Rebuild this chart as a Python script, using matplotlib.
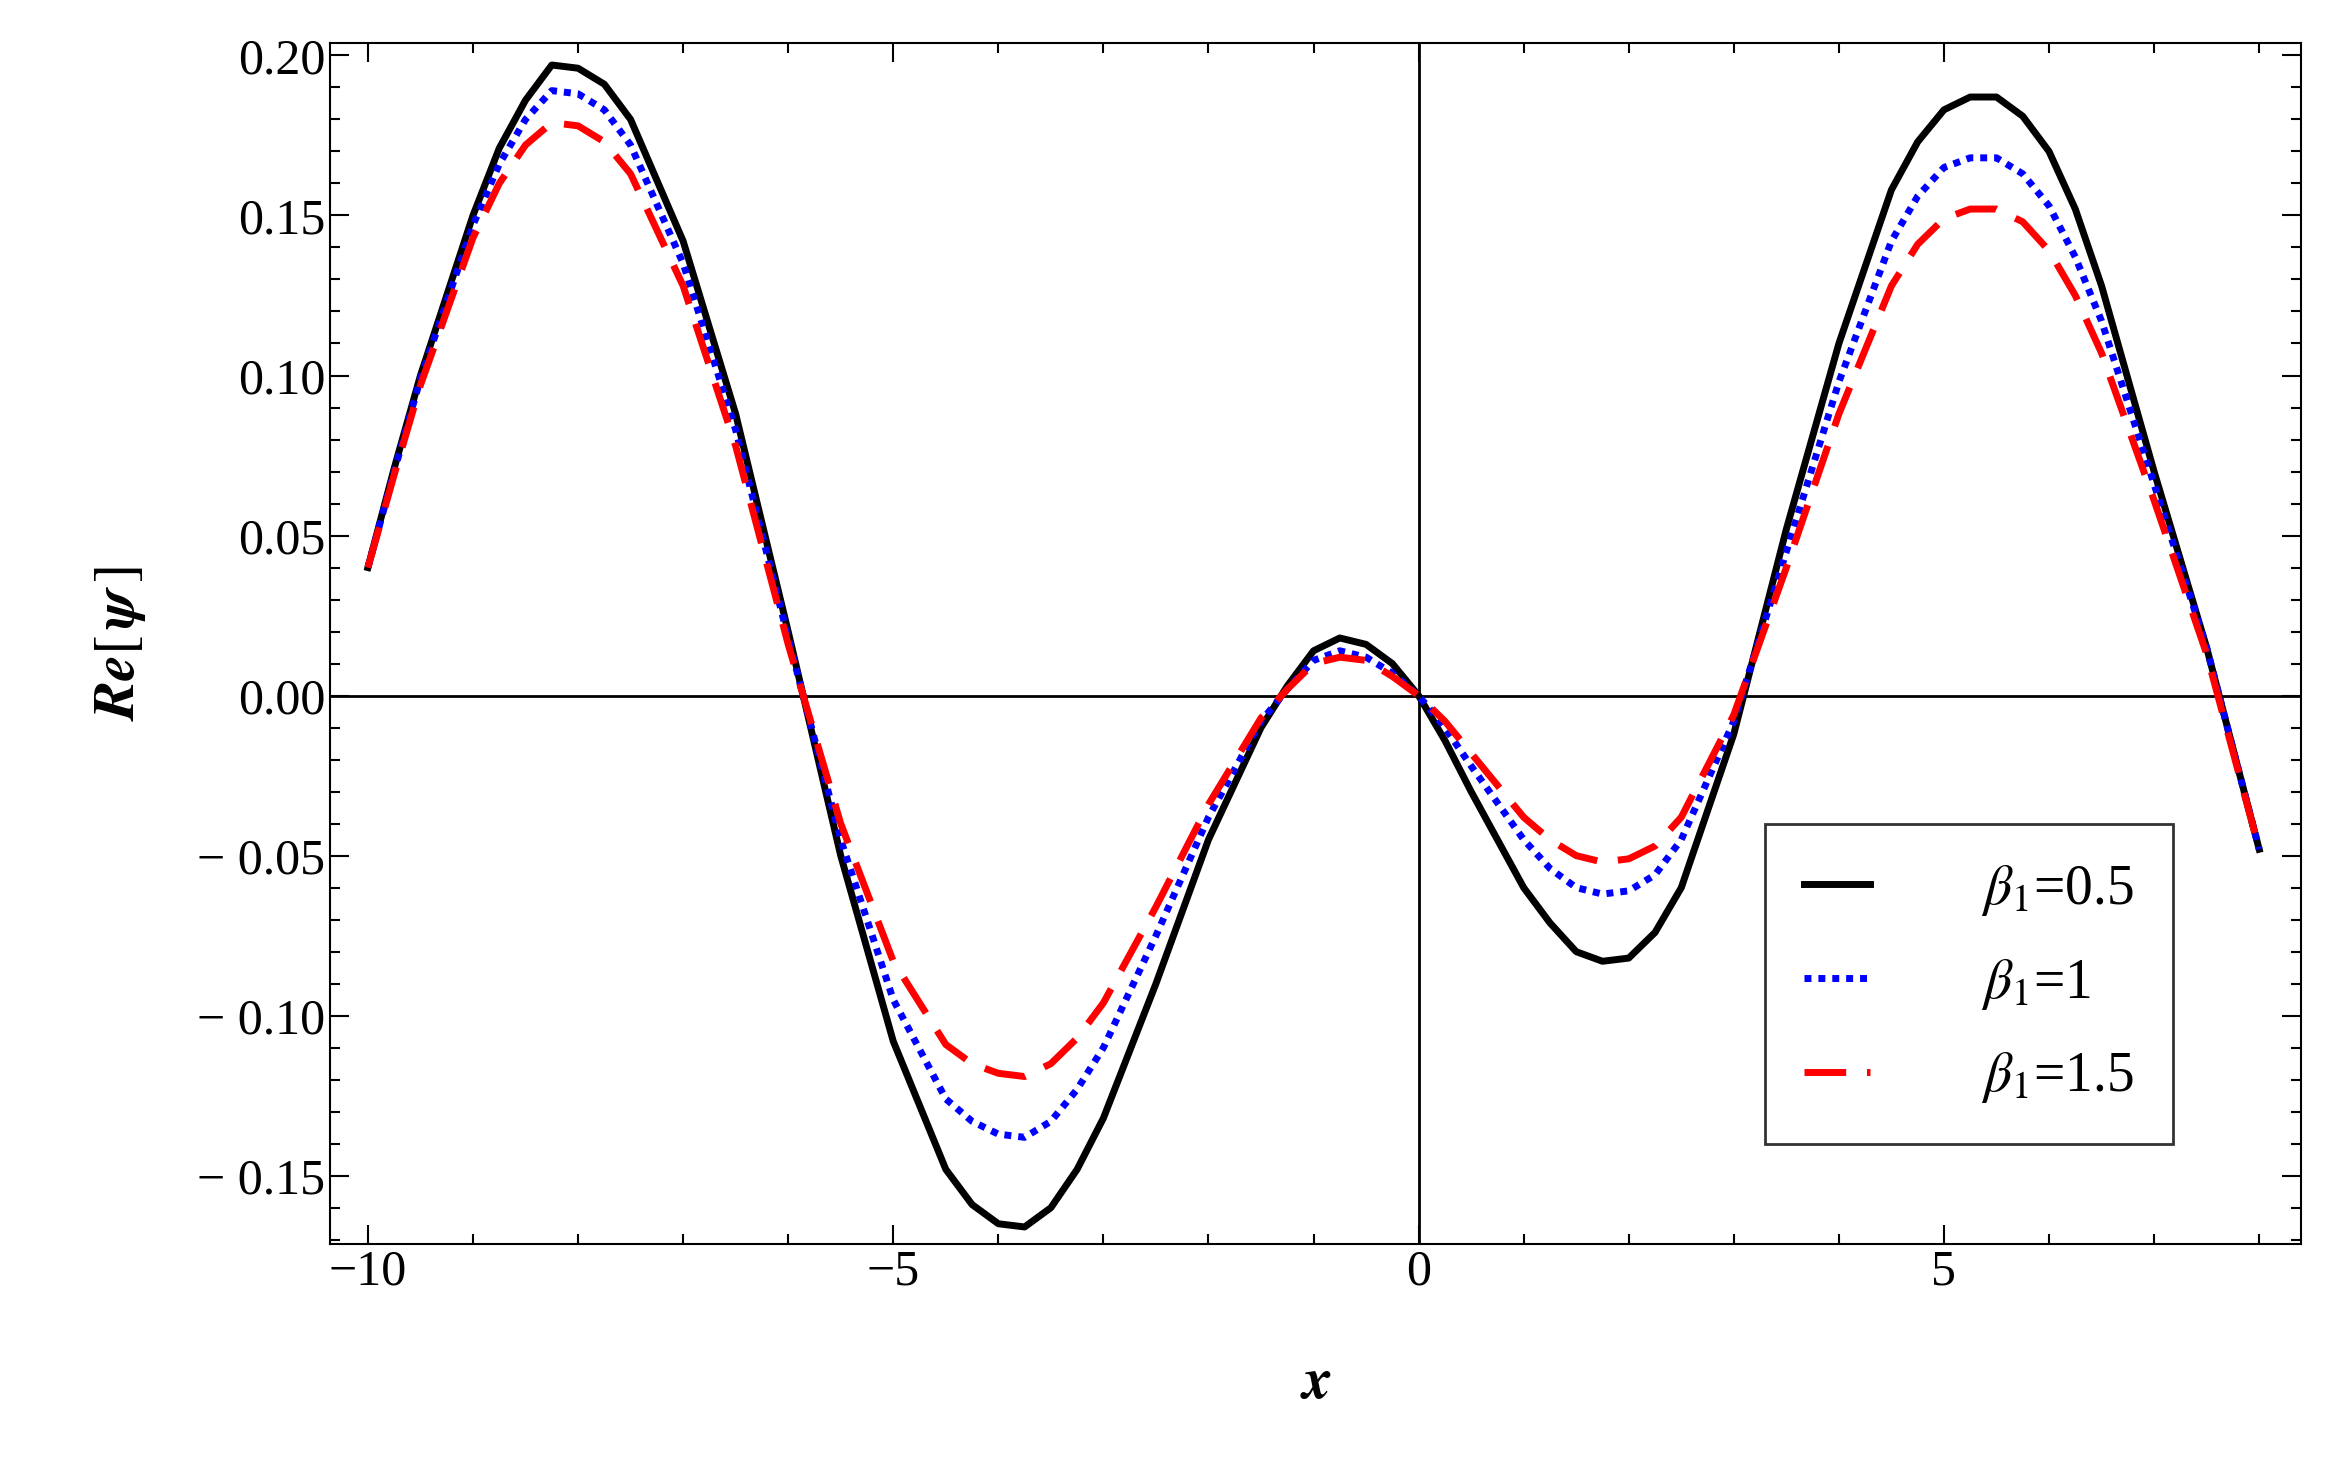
import matplotlib
matplotlib.use("Agg")
import matplotlib.pyplot as plt
from matplotlib.ticker import MultipleLocator, FuncFormatter

x = [-10 + 0.5 * i for i in range(37)]
y_b05 = [0.040, 0.100, 0.150, 0.186, 0.196, 0.180, 0.142, 0.088, 0.020, -0.050, -0.108, -0.148, -0.165,
         -0.160, -0.132, -0.090, -0.045, -0.010, 0.014, 0.016, 0.000, -0.030, -0.060, -0.080, -0.082,
         -0.060, -0.012, 0.052, 0.110, 0.158, 0.183, 0.187, 0.170, 0.128, 0.070, 0.015, -0.048]
y_b1 = [0.040, 0.099, 0.147, 0.180, 0.188, 0.172, 0.135, 0.083, 0.018, -0.045, -0.095, -0.126, -0.137,
        -0.133, -0.110, -0.075, -0.038, -0.008, 0.011, 0.012, 0.000, -0.022, -0.045, -0.060, -0.061,
        -0.045, -0.008, 0.045, 0.098, 0.142, 0.165, 0.168, 0.153, 0.117, 0.066, 0.015, -0.048]
y_b15 = [0.040, 0.097, 0.143, 0.172, 0.178, 0.163, 0.128, 0.078, 0.016, -0.040, -0.083, -0.109, -0.118,
         -0.115, -0.096, -0.066, -0.034, -0.007, 0.010, 0.011, 0.000, -0.018, -0.038, -0.050, -0.051,
         -0.038, -0.006, 0.040, 0.088, 0.128, 0.149, 0.152, 0.139, 0.107, 0.061, 0.013, -0.048]
# extra readings near the extrema
x_extra = [-9.75, -8.75, -8.25, -7.75, -4.25, -3.75, -3.25, -1.25, -0.75, -0.25, 0.25, 1.25, 1.75, 2.25,
           4.75, 5.25, 5.75, 6.25]
e_b05 = [0.071, 0.171, 0.197, 0.191, -0.159, -0.166, -0.148, 0.003, 0.018, 0.010, -0.014, -0.071, -0.083,
         -0.074, 0.173, 0.187, 0.181, 0.152]
e_b1 = [0.070, 0.166, 0.189, 0.183, -0.133, -0.138, -0.123, 0.002, 0.014, 0.007, -0.010, -0.054, -0.062,
        -0.056, 0.156, 0.168, 0.163, 0.137]
e_b15 = [0.069, 0.160, 0.179, 0.173, -0.115, -0.119, -0.107, 0.002, 0.012, 0.006, -0.008, -0.045, -0.052,
         -0.047, 0.141, 0.152, 0.148, 0.125]
labels = [r"$\beta_1$=0.5", r"$\beta_1$=1", r"$\beta_1$=1.5"]


def merged(ys, es):
    pts = sorted(zip(x + x_extra, ys + es))
    return [p[0] for p in pts], [p[1] for p in pts]


plt.rcParams['font.family'] = ['Liberation Serif', 'DejaVu Serif']
plt.rcParams['mathtext.fontset'] = 'stix'

fig = plt.figure(figsize=(23.41, 14.69), dpi=100)
ax = fig.add_axes([0.141, 0.153, 0.842, 0.818])
ax.axhline(0, color='black', lw=2)
ax.axvline(0, color='black', lw=2)
xs, ys = merged(y_b05, e_b05)
ax.plot(xs, ys, color='black', lw=5, label=labels[0])
xs, ys = merged(y_b1, e_b1)
ax.plot(xs, ys, color='blue', lw=5, ls=(0, (1, 1)), label=labels[1])
xs, ys = merged(y_b15, e_b15)
ax.plot(xs, ys, color='red', lw=5, ls=(0, (6, 3)), label=labels[2])

ax.set_xlim(-10.36, 8.4)
ax.set_ylim(-0.1714, 0.204)
ax.xaxis.set_major_locator(MultipleLocator(5))
ax.xaxis.set_minor_locator(MultipleLocator(1))
ax.yaxis.set_major_locator(MultipleLocator(0.05))
ax.yaxis.set_minor_locator(MultipleLocator(0.01))
ax.xaxis.set_major_formatter(FuncFormatter(lambda v, p: f"{v:.0f}".replace('-', '\u2212')))
ax.yaxis.set_major_formatter(FuncFormatter(lambda v, p: f"{v:.2f}".replace('-', '\u2212 ')))
ax.tick_params(which='both', direction='in', top=True, right=True, labelsize=36, width=1.5)
ax.tick_params(which='major', length=14)
ax.tick_params(which='minor', length=7)
for s in ax.spines.values():
    s.set_linewidth(1.5)
ax.set_xlabel(r"$\boldsymbol{x}$", fontsize=42, labelpad=45)
ax.set_ylabel(r"$\boldsymbol{Re}[\,\boldsymbol{\psi}\,]$", fontsize=42, labelpad=35)

leg = ax.legend(loc='lower right', bbox_to_anchor=(0.949, 0.06), fontsize=40, frameon=True,
                fancybox=False, edgecolor='black', handlelength=1.2, handletextpad=2.0,
                borderpad=0.7, labelspacing=0.7)
leg.get_frame().set_linewidth(2)
fig.savefig("out.png", dpi=100)
